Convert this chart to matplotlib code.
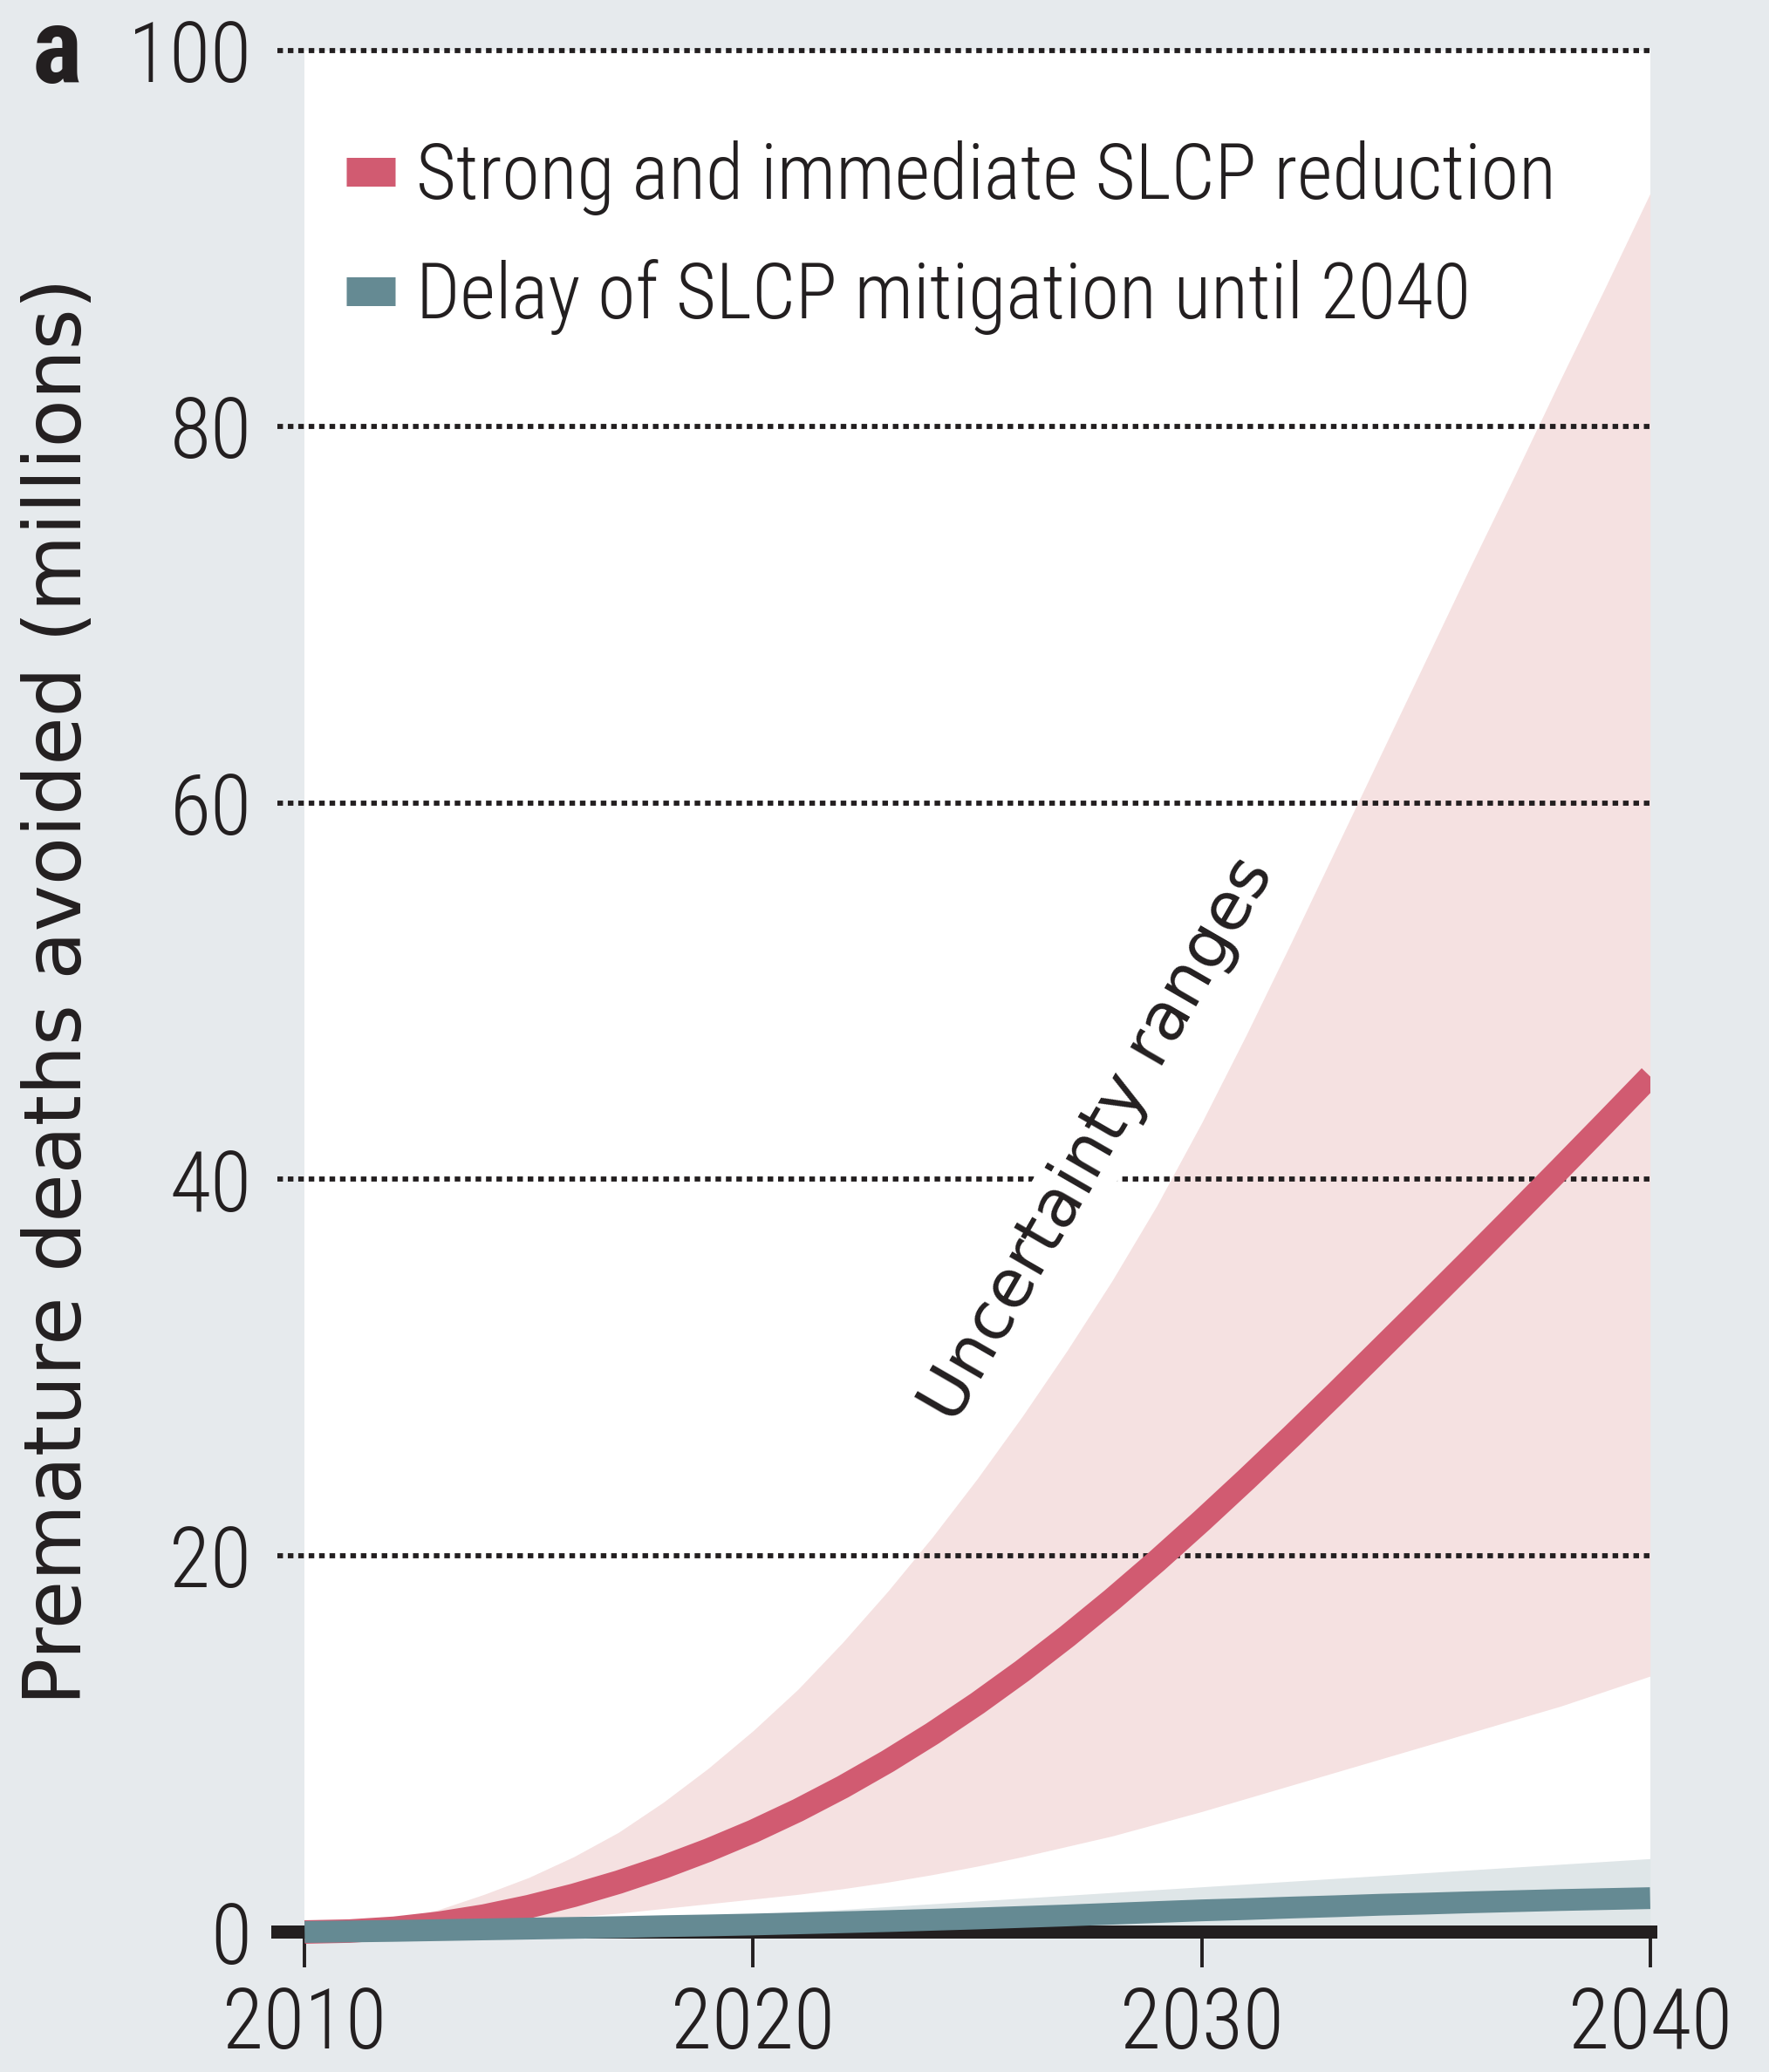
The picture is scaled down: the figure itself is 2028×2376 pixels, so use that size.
import numpy as np
import matplotlib.pyplot as plt
from matplotlib import font_manager
from matplotlib.font_manager import FontProperties
from matplotlib.textpath import TextPath
from matplotlib.lines import Line2D
from matplotlib.patches import Rectangle

# values (millions of premature deaths avoided)
years = list(range(2010, 2041))
strong_mid = [0, 0.05, 0.2, 0.47, 0.85, 1.35, 1.95, 2.65, 3.45, 4.35,
              5.35, 6.47, 7.71, 9.07, 10.55, 12.15, 13.87, 15.71, 17.66, 19.71,
              21.85, 24.06, 26.33, 28.65, 31.01, 33.37, 35.75, 38.15, 40.57, 43.01, 45.47]
strong_hi = [0, 0.2, 0.6, 1.2, 2.0, 2.9, 4.0, 5.3, 6.9, 8.7,
             10.7, 12.9, 15.4, 18.1, 21.0, 24.1, 27.4, 30.9, 34.6, 38.6,
             43.0, 47.7, 52.6, 57.6, 62.6, 67.6, 72.6, 77.5, 82.5, 87.4, 92.4]
strong_lo = [0, 0.1, 0.2, 0.3, 0.45, 0.6, 0.8, 1.0, 1.25, 1.5,
             1.75, 2.0, 2.3, 2.65, 3.05, 3.5, 4.0, 4.55, 5.1, 5.75,
             6.4, 7.1, 7.8, 8.5, 9.2, 9.9, 10.6, 11.3, 12.0, 12.8, 13.6]
delay_mid = [0, 0.03, 0.06, 0.1, 0.14, 0.18, 0.22, 0.26, 0.31, 0.35,
             0.4, 0.46, 0.52, 0.58, 0.65, 0.72, 0.8, 0.88, 0.97, 1.06,
             1.15, 1.22, 1.3, 1.37, 1.45, 1.51, 1.58, 1.64, 1.7, 1.75, 1.8]
delay_hi = [0, 0.05, 0.1, 0.17, 0.25, 0.35, 0.45, 0.57, 0.7, 0.82,
            0.95, 1.07, 1.2, 1.35, 1.5, 1.65, 1.8, 1.95, 2.1, 2.25,
            2.4, 2.55, 2.7, 2.85, 3.0, 3.15, 3.3, 3.45, 3.6, 3.75, 3.9]

labels = ["Strong and immediate SLCP reduction", "Delay of SLCP mitigation until 2040"]
xticks = [2010, 2020, 2030, 2040]
yticks = [0, 20, 40, 60, 80, 100]

bg = "#e6eaed"
dark = "#231f20"
pink = "#d15b71"
pink_band = "#f5e1e1"
teal = "#658a93"
teal_band = "#dfe6e8"

DPI = 200


# look for a condensed sans face, the reference uses one
def wnum(w):
    if isinstance(w, (int, float)):
        return w
    return {"normal": 400, "regular": 400, "book": 400, "medium": 500,
            "bold": 700, "light": 300}.get(str(w).lower(), 400)


cond = [f for f in font_manager.fontManager.ttflist
        if f.style == "normal" and (
            "Narrow" in f.name or "Condensed" in f.name
            or f.stretch in ("condensed", "semi-condensed", "extra-condensed"))]
pref = ["Liberation Sans Narrow", "Roboto Condensed", "Open Sans Condensed",
        "Noto Sans", "DejaVu Sans", "Open Sans"]
cond.sort(key=lambda f: (pref.index(f.name) if f.name in pref else 99,
                         abs(wnum(f.weight) - 340)))
if cond:
    reg = cond[0]
    fp_reg = FontProperties(fname=reg.fname)
    bolds = [f for f in cond if f.name == reg.name and wnum(f.weight) >= 600]
    bolds.sort(key=lambda f: abs(wnum(f.weight) - 700))
    fp_bold = FontProperties(fname=bolds[0].fname) if bolds else \
        FontProperties(fname=reg.fname, weight="bold")
else:
    fp_reg = FontProperties(family="Liberation Sans")
    fp_bold = FontProperties(family="Liberation Sans", weight="bold")


def fit_size(s, prop, w_px, h_px, wt=0.6):
    ext = TextPath((0, 0), s, size=100, prop=prop).get_extents()
    k = 72 / DPI
    sw = 100 * w_px * k / ext.width
    sh = 100 * h_px * k / ext.height
    return sw ** wt * sh ** (1 - wt)


tick_size = fit_size("2010", fp_reg, 172, 74)
leg_size = fit_size(labels[0], fp_reg, 1263, 92, wt=0.75)
a_size = fit_size("a", fp_bold, 49, 67, wt=0.4)

fig = plt.figure(figsize=(2028 / DPI, 2376 / DPI), dpi=DPI, facecolor=bg)
ax = fig.add_axes([0.157, 0.0494, 0.7758, 0.9354])
ax.set_facecolor(bg)
ax.add_patch(Rectangle((2010, 0), 30, 100, fc="white", ec="none", zorder=0))

ax.fill_between(years, strong_lo, strong_hi, color=pink_band, lw=0, zorder=1)
ax.fill_between(years, 0, delay_hi, color=teal_band, lw=0, zorder=1)
ax.plot(years, strong_mid, color=pink, lw=9.7, solid_capstyle="butt", zorder=2)
ax.plot(years, delay_mid, color=teal, lw=9.0, solid_capstyle="butt", zorder=3,
        clip_on=False)

ax.set_xlim(2009.4, 2040)
ax.set_ylim(-2, 101)
ax.set_xticks(xticks)
ax.set_yticks(yticks)
ax.grid(axis="y", color=dark, linestyle=(0, (1.1, 0.95)), linewidth=2.1)

for s in ["top", "right", "left"]:
    ax.spines[s].set_visible(False)
ax.spines["bottom"].set_position(("data", 0))
ax.spines["bottom"].set_linewidth(5.4)
ax.spines["bottom"].set_color(dark)

ax.tick_params(axis="x", direction="out", length=14.8, width=1.4, color=dark,
               pad=7, labelcolor=dark)
ax.tick_params(axis="y", length=0, pad=10.8, labelcolor=dark)
for lbl in ax.get_xticklabels() + ax.get_yticklabels():
    lbl.set_fontproperties(fp_reg)
    lbl.set_fontsize(tick_size)

ax.set_ylabel("Premature deaths avoided (millions)", family="DejaVu Sans",
              size=32.4, color=dark, va="center")
ax.yaxis.set_label_coords(-0.159, 0.505)

# legend: handle 56 px wide, 33 px tall, rows 139 px apart
fs_px = leg_size * DPI / 72
leg_prop = fp_reg.copy()
leg_prop.set_size(leg_size)
handles = [Line2D([0], [0], color=pink, lw=33 * 72 / DPI, solid_capstyle="butt"),
           Line2D([0], [0], color=teal, lw=33 * 72 / DPI, solid_capstyle="butt")]
ax_top_px = (1 - 0.9848) * 2376
ax_h_px = 0.9354 * 2376
leg_top_px = 212 - 0.58 * fs_px
leg = ax.legend(handles, labels, loc="upper left",
                bbox_to_anchor=(0.0502, 1 - (leg_top_px - ax_top_px) / ax_h_px),
                frameon=False, prop=leg_prop, handlelength=56 / fs_px,
                handletextpad=24 / fs_px, labelspacing=(139 - 1.0 * fs_px) / fs_px,
                borderpad=0, borderaxespad=0)
for t in leg.get_texts():
    t.set_color(dark)

ax.text(2027.7, 42.1, "Uncertainty ranges", rotation=60, rotation_mode="anchor",
        ha="center", va="center", family="DejaVu Sans", size=27.5, color=dark,
        zorder=1.7, bbox=dict(fc="white", ec="none", pad=2))

a_prop = fp_bold.copy()
a_prop.set_size(a_size)
fig.text(65 / 2028, 1 - 61 / 2376, "a", ha="center", va="center",
         fontproperties=a_prop, color=dark)

fig.savefig("out.png", dpi=DPI, facecolor=bg)
